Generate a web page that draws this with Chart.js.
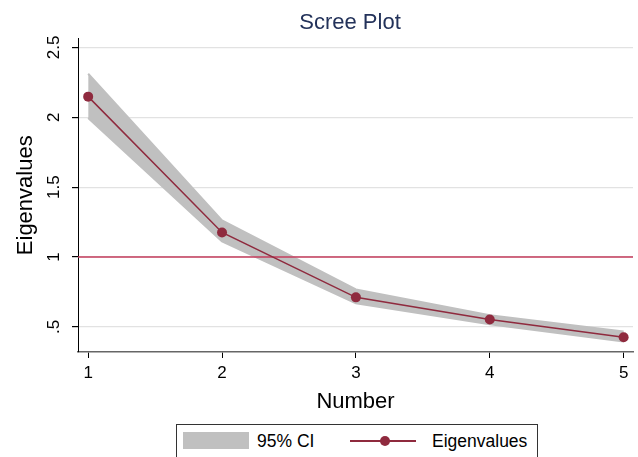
<!DOCTYPE html>
<html>
<head>
<meta charset="utf-8">
<title>Scree Plot</title>
<script src="https://cdn.jsdelivr.net/npm/chart.js@4"></script>
<style>
  html, body { margin: 0; padding: 0; background: #fff; }
  #wrap { position: relative; width: 638px; height: 457px; overflow: hidden; }
  #chart { position: absolute; left: 0; top: 0; }
  #title {
    position: absolute; left: 78px; width: 544px; top: 9px; text-align: center;
    font-family: "Liberation Sans", Arial, Helvetica, sans-serif; font-size: 22px; line-height: 26px;
    color: #23325a; white-space: nowrap;
  }
  #legend {
    position: absolute; left: 176px; top: 424px; width: 362px; height: 40px;
    border: 1px solid #333; box-sizing: border-box; background: #fff;
    font-family: "Liberation Sans", Arial, Helvetica, sans-serif; font-size: 17.5px; color: #000;
  }
  #legend .swatch { position: absolute; left: 6px; top: 7px; width: 66px; height: 17px; background: #c0c0c0; }
  #legend .lab { position: absolute; top: 6px; line-height: 20px; white-space: nowrap; }
  #legend .line { position: absolute; left: 173px; top: 15px; width: 66px; height: 2px; background: #8f2a3e; }
  #legend .dot { position: absolute; left: 203px; top: 11px; width: 10px; height: 10px; border-radius: 50%; background: #8f2a3e; }
</style>
</head>
<body>
<div id="wrap">
  <canvas id="chart" width="638" height="457"></canvas>
  <div id="title">Scree Plot</div>
  <div id="legend">
    <div class="swatch"></div>
    <div class="lab" style="left:80px">95% CI</div>
    <div class="line"></div>
    <div class="dot"></div>
    <div class="lab" style="left:255px">Eigenvalues</div>
  </div>
</div>
<script>
// Component numbers and their eigenvalues with 95% confidence bounds
const numbers = [1, 2, 3, 4, 5];
const eigenvalues = [2.148, 1.176, 0.712, 0.553, 0.426];
const ciUpper = [2.312, 1.262, 0.769, 0.584, 0.467];
const ciLower = [1.995, 1.112, 0.669, 0.519, 0.396];

// Axis ticks
const yTicks = [0.5, 1, 1.5, 2, 2.5];
const yTickLabels = ['.5', '1', '1.5', '2', '2.5'];

// Kaiser criterion reference line
const refLine = 1;

const FONT = '"Liberation Sans", Arial, Helvetica, sans-serif';
Chart.defaults.font.family = FONT;
Chart.defaults.color = '#000';

const pts = arr => numbers.map((n, i) => ({ x: n, y: arr[i] }));

// Draws the horizontal reference line right after the CI band is painted
const refLinePlugin = {
  id: 'refLine',
  afterDatasetDraw(chart, args) {
    if (args.index !== 1) return;
    const { ctx, chartArea, scales } = chart;
    const y = scales.y.getPixelForValue(refLine);
    ctx.save();
    ctx.strokeStyle = '#c43c5c';
    ctx.lineWidth = 1.5;
    ctx.beginPath();
    ctx.moveTo(chartArea.left, y);
    ctx.lineTo(chartArea.right, y);
    ctx.stroke();
    ctx.restore();
  }
};

new Chart(document.getElementById('chart'), {
  type: 'line',
  data: {
    datasets: [
      {
        label: 'Eigenvalues',
        data: pts(eigenvalues),
        borderColor: '#8f2a3e',
        backgroundColor: '#8f2a3e',
        borderWidth: 1.5,
        pointRadius: 5,
        pointBorderWidth: 0,
        pointBackgroundColor: '#8f2a3e',
        fill: false,
        tension: 0
      },
      {
        label: '95% CI',
        data: pts(ciUpper),
        borderColor: '#c0c0c0',
        backgroundColor: '#c0c0c0',
        borderWidth: 2,
        pointRadius: 0,
        fill: '+1',
        tension: 0
      },
      {
        label: '95% CI lower',
        data: pts(ciLower),
        borderColor: '#c0c0c0',
        backgroundColor: '#c0c0c0',
        borderWidth: 2,
        pointRadius: 0,
        fill: false,
        tension: 0
      }
    ]
  },
  options: {
    responsive: false,
    animation: false,
    devicePixelRatio: 1,
    layout: { padding: { left: 0, right: 4, top: 38.5, bottom: 35 } },
    plugins: {
      legend: { display: false },
      tooltip: { enabled: false },
      title: { display: false }
    },
    scales: {
      x: {
        type: 'linear',
        min: 0.924,
        max: 5.07,
        afterBuildTicks: s => { s.ticks = numbers.map(v => ({ value: v })); },
        afterFit: s => { s.height = 70; },
        ticks: { font: { size: 17 }, color: '#000', padding: 5, maxRotation: 0 },
        grid: { drawOnChartArea: false, drawTicks: true, tickLength: 6, tickColor: '#000' },
        border: { color: '#666', width: 1.5 },
        title: { display: true, text: 'Number', font: { size: 22 }, color: '#000', padding: { top: 4, bottom: 7 } }
      },
      y: {
        type: 'linear',
        min: 0.321,
        max: 2.564,
        afterBuildTicks: s => { s.ticks = yTicks.map(v => ({ value: v })); },
        afterFit: s => { s.width = 78; },
        ticks: {
          font: { size: 17 },
          color: '#000',
          minRotation: 90,
          maxRotation: 90,
          crossAlign: 'center',
          padding: 6,
          callback: v => yTickLabels[yTicks.indexOf(v)]
        },
        grid: { color: '#e2e2e2', lineWidth: 1.2, drawTicks: true, tickLength: 6, tickColor: '#000' },
        border: { color: '#000', width: 1 },
        title: { display: true, text: 'Eigenvalues', font: { size: 22 }, color: '#000', padding: { top: 13, bottom: 13 } }
      }
    }
  },
  plugins: [refLinePlugin]
});
</script>
</body>
</html>
